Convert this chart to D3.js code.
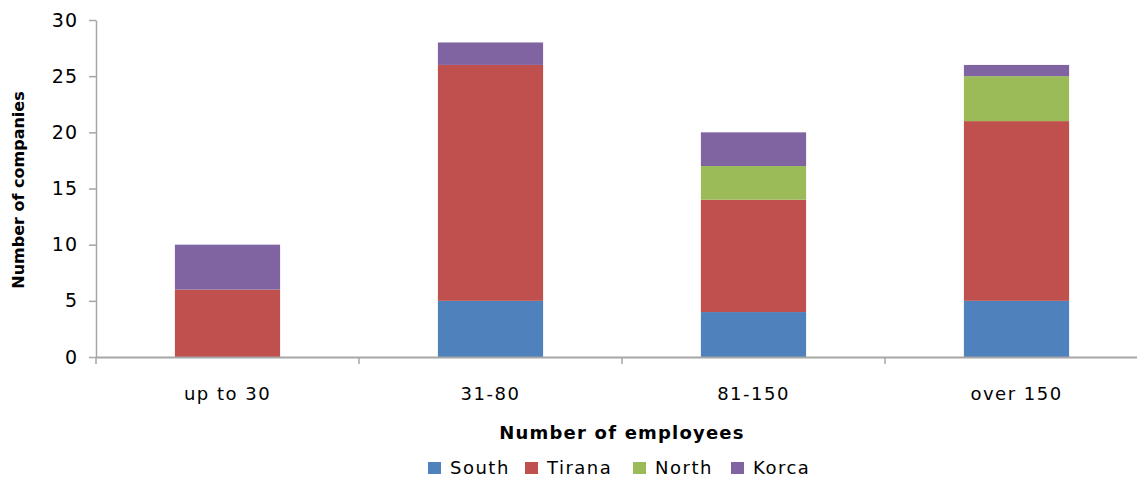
<!DOCTYPE html>
<html>
<head>
<meta charset="utf-8">
<script src="https://cdn.jsdelivr.net/npm/d3@7"></script>
<style>
  html, body { margin: 0; padding: 0; background: #fff; }
  svg { display: block; }
  text { font-family: "DejaVu Sans", Verdana, sans-serif; fill: #000; }
</style>
</head>
<body>
<svg id="chart" width="1137" height="477"></svg>
<script>
// Companies by size band and region
const categories = ["up to 30", "31-80", "81-150", "over 150"];
const seriesNames = ["South", "Tirana", "North", "Korca"];
const south  = [0, 5, 4, 5];
const tirana = [6, 21, 10, 16];
const north  = [0, 0, 3, 4];
const korca  = [4, 2, 3, 1];
const yTicks = [0, 5, 10, 15, 20, 25, 30];
const colors = ["#4F81BD", "#C0504D", "#9BBB59", "#8064A2"];

const seriesValues = [south, tirana, north, korca];
const rows = categories.map((c, i) => {
  const r = { category: c };
  seriesNames.forEach((s, k) => { r[s] = seriesValues[k][i]; });
  return r;
});

const svg = d3.select("#chart");
const plot = { left: 96, right: 1148, top: 20, bottom: 357 };

const x = d3.scaleBand()
  .domain(categories)
  .range([plot.left, plot.right])
  .paddingInner(0)
  .paddingOuter(0);

const y = d3.scaleLinear()
  .domain([0, 30])
  .range([plot.bottom, plot.top]);

const stacked = d3.stack().keys(seriesNames)(rows);
const barW = x.bandwidth() * 0.4;

svg.append("g")
  .selectAll("g")
  .data(stacked)
  .join("g")
  .attr("fill", (d, i) => colors[i])
  .selectAll("rect")
  .data(d => d)
  .join("rect")
  .attr("x", d => x(d.data.category) + (x.bandwidth() - barW) / 2)
  .attr("y", d => y(d[1]))
  .attr("width", barW)
  .attr("height", d => y(d[0]) - y(d[1]));

// Y axis
const yAxis = svg.append("g")
  .attr("transform", `translate(${plot.left},0)`)
  .call(d3.axisLeft(y).tickValues(yTicks).tickSize(7).tickPadding(11).tickSizeOuter(0));
yAxis.select(".domain").attr("stroke", "#a6a6a6").attr("stroke-width", 1.5);
yAxis.selectAll(".tick line").attr("stroke", "#a6a6a6").attr("stroke-width", 1.5);
yAxis.selectAll(".tick text")
  .attr("font-size", 19)
  .attr("letter-spacing", 1)
  .attr("font-family", "DejaVu Sans, sans-serif")
  .attr("fill", "#000");

// X axis
const xAxis = svg.append("g")
  .attr("transform", `translate(0,${plot.bottom})`)
  .call(d3.axisBottom(x).tickSize(0).tickPadding(30).tickSizeOuter(0));
xAxis.select(".domain").attr("stroke", "#a6a6a6").attr("stroke-width", 2);
xAxis.selectAll(".tick text")
  .attr("font-size", 18)
  .attr("letter-spacing", 1.5)
  .attr("font-family", "DejaVu Sans, sans-serif")
  .attr("fill", "#000");

// Category separator ticks
const bounds = categories.map(c => x(c)).concat([plot.right]);
svg.append("g")
  .selectAll("line")
  .data(bounds)
  .join("line")
  .attr("x1", d => d).attr("x2", d => d)
  .attr("y1", plot.bottom).attr("y2", plot.bottom + 7)
  .attr("stroke", "#a6a6a6").attr("stroke-width", 1.5);

// Axis titles
svg.append("text")
  .attr("x", (plot.left + plot.right) / 2)
  .attr("y", 439)
  .attr("text-anchor", "middle")
  .attr("font-size", 18)
  .attr("letter-spacing", 1.2)
  .attr("font-weight", "bold")
  .text("Number of employees");

svg.append("text")
  .attr("transform", `translate(24,190) rotate(-90)`)
  .attr("text-anchor", "middle")
  .attr("font-size", 16)
  .attr("font-weight", "bold")
  .attr("font-family", "Liberation Sans, Arial, sans-serif")
  .text("Number of companies");

// Legend
const legendX = [428, 525, 633, 731];
const legend = svg.append("g")
  .selectAll("g")
  .data(seriesNames)
  .join("g")
  .attr("transform", (d, i) => `translate(${legendX[i]},462)`);
legend.append("rect")
  .attr("width", 13).attr("height", 12)
  .attr("fill", (d, i) => colors[i]);
legend.append("text")
  .attr("x", 22).attr("y", 12)
  .attr("font-size", 18)
  .attr("letter-spacing", 1.5)
  .text(d => d);
</script>
</body>
</html>
